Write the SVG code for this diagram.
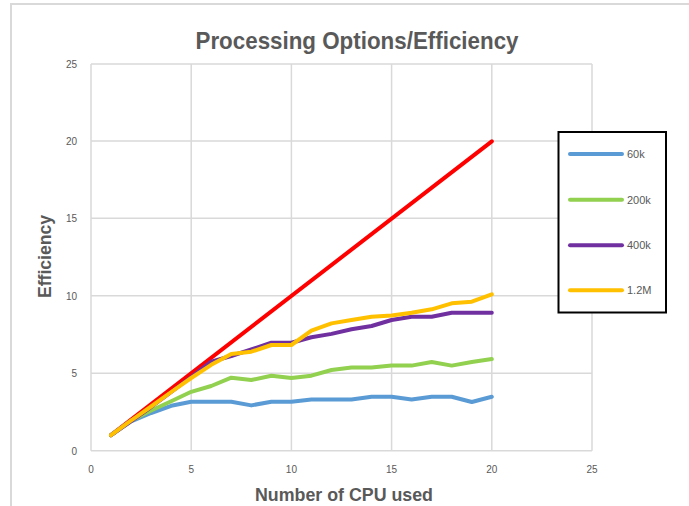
<svg xmlns="http://www.w3.org/2000/svg" width="689" height="506" viewBox="0 0 689 506">
<style>
.grid{stroke:#d9d9d9;stroke-width:1.5;fill:none}
.tick{font-family:"Liberation Sans",Arial,sans-serif;font-size:10px;fill:#595959}
.ttl{font-family:"Liberation Sans",Arial,sans-serif;font-weight:bold;fill:#595959}
.s{fill:none;stroke-width:4;stroke-linejoin:round;stroke-linecap:round}
.leg{font-family:"Liberation Sans",Arial,sans-serif;font-size:11px;fill:#595959}
</style>
<rect x="0" y="0" width="689" height="506" fill="#ffffff"/>
<rect x="11" y="4" width="700" height="600" fill="none" stroke="#d9d9d9" stroke-width="2"/>
<g id="title"><text class="ttl" x="357" y="49" font-size="24" text-anchor="middle" textLength="323" lengthAdjust="spacingAndGlyphs">Processing Options/Efficiency</text></g>
<g id="grid">
<path class="grid" d="M91,64H592M91,141H592M91,218.3H592M91,295.7H592M91,373.3H592M91,450.7H592M91,64V450.7M191.2,64V450.7M291.4,64V450.7M391.6,64V450.7M491.8,64V450.7M592,64V450.7"/>
</g>
<g id="y-ticks" text-anchor="end">
<text class="tick" x="77" y="68">25</text>
<text class="tick" x="77" y="145">20</text>
<text class="tick" x="77" y="222.3">15</text>
<text class="tick" x="77" y="299.7">10</text>
<text class="tick" x="77" y="377.3">5</text>
<text class="tick" x="77" y="454.7">0</text>
</g>
<g id="x-ticks" text-anchor="middle">
<text class="tick" x="91" y="473">0</text>
<text class="tick" x="191.2" y="473">5</text>
<text class="tick" x="291.4" y="473">10</text>
<text class="tick" x="391.6" y="473">15</text>
<text class="tick" x="491.8" y="473">20</text>
<text class="tick" x="592" y="473">25</text>
</g>
<g id="axis-titles">
<text class="ttl" x="344" y="501" font-size="19" text-anchor="middle" textLength="178" lengthAdjust="spacingAndGlyphs">Number of CPU used</text>
<text class="ttl" transform="translate(51,256.5) rotate(-90)" x="0" y="0" font-size="19" text-anchor="middle" textLength="83" lengthAdjust="spacingAndGlyphs">Efficiency</text>
</g>
<g id="connectors">
<polyline id="ideal" class="s" stroke="#ff0000" points="111,435.2 491.8,141.3"/>
<polyline id="s60k" class="s" stroke="#5b9bd5" points="111,435.2 131.1,421.3 151.1,413 171.2,405.8 191.2,401.7 211.2,401.7 231.3,401.7 251.3,405.4 271.4,401.7 291.4,401.7 311.4,399.6 331.5,399.6 351.5,399.6 371.6,396.7 391.6,396.7 411.6,399.6 431.7,396.7 451.7,396.7 471.8,402 491.8,396.7"/>
<polyline id="s200k" class="s" stroke="#92d050" points="111,435.2 131.1,420.5 151.1,410.5 171.2,401.2 191.2,391.8 211.2,386 231.3,377.7 251.3,380 271.4,375.7 291.4,378 311.4,375.7 331.5,370 351.5,367.6 371.6,367.6 391.6,365.6 411.6,365.6 431.7,362 451.7,365.6 471.8,362 491.8,359"/>
<polyline id="s400k" class="s" stroke="#7030a0" points="111,435.2 131.1,421 151.1,407 171.2,392 191.2,377 211.2,361.7 231.3,356 251.3,349.4 271.4,342.7 291.4,342.7 311.4,337.3 331.5,333.9 351.5,329.3 371.6,326 391.6,320 411.6,316.7 431.7,316.7 451.7,312.7 471.8,312.7 491.8,312.7"/>
<polyline id="s12m" class="s" stroke="#ffc000" points="111,435.2 131.1,420.5 151.1,406.5 171.2,392 191.2,378 211.2,364.8 231.3,354 251.3,351.7 271.4,345 291.4,345 311.4,330.7 331.5,323.4 351.5,320 371.6,316.7 391.6,315.6 411.6,312.7 431.7,309.3 451.7,303.3 471.8,301.7 491.8,294.3"/>
</g>
<g id="legend">
<rect x="558.5" y="132" width="107.5" height="180.5" fill="#ffffff" stroke="#000000" stroke-width="2"/>
<line class="s" stroke="#5b9bd5" x1="570" y1="154" x2="622" y2="154"/>
<text class="leg" x="627" y="158">60k</text>
<line class="s" stroke="#92d050" x1="570" y1="199.7" x2="622" y2="199.7"/>
<text class="leg" x="627" y="203.7">200k</text>
<line class="s" stroke="#7030a0" x1="570" y1="245.3" x2="622" y2="245.3"/>
<text class="leg" x="627" y="249.3">400k</text>
<line class="s" stroke="#ffc000" x1="570" y1="290.3" x2="622" y2="290.3"/>
<text class="leg" x="627" y="294.3">1.2M</text>
</g>
</svg>
